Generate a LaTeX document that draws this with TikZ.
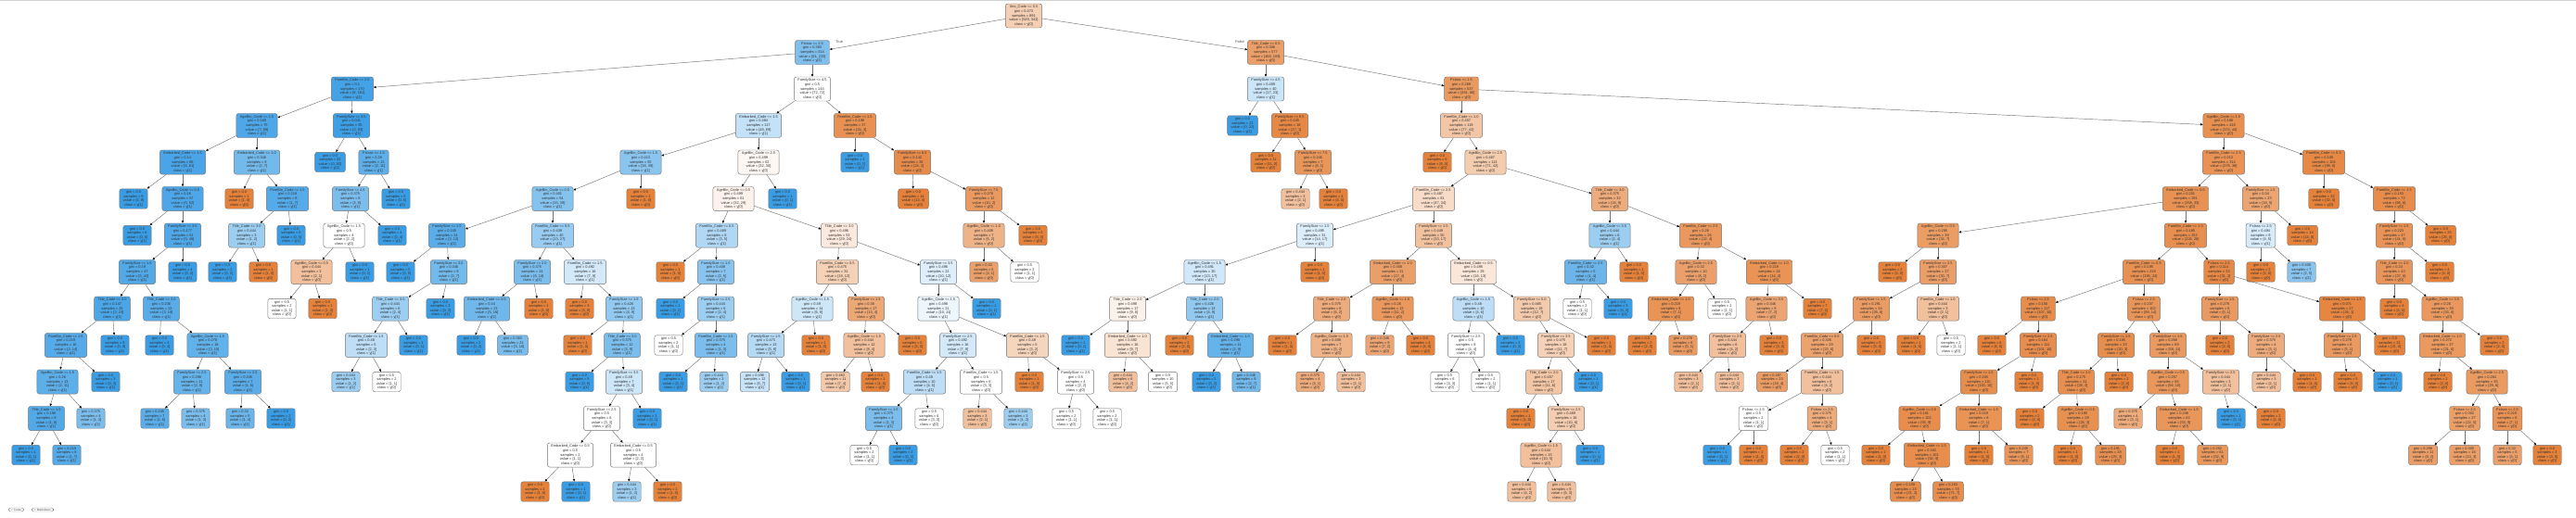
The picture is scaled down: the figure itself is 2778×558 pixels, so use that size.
\documentclass[tikz,border=0pt]{standalone}
\usepackage{fontspec}
\setmainfont{Liberation Sans}
\usetikzlibrary{arrows.meta}
\definecolor{cA}{RGB}{229,129,57}
\definecolor{cB}{RGB}{57,157,229}
\tikzset{
  tnode/.style={draw=black!55, line width=0.45pt, rounded corners=2.5pt, align=center,
    font=\fontsize{3.9}{4.6}\selectfont, text=black!80, inner xsep=4pt, inner ysep=2pt},
  edge/.style={draw=black!55, line width=0.45pt, -{Triangle[length=2.6pt,width=2.2pt,black]}},
  lbl/.style={font=\fontsize{3.9}{4.6}\selectfont, text=black!70, inner sep=0pt},
  pill/.style={draw=black!50, line width=0.3pt, rounded corners=2.5pt, font=\fontsize{3.2}{3.6}\selectfont, text=black!70, inner xsep=3pt, inner ysep=0.8pt}
}
% name, parent, x, level, split, gini, samples, a, b
\newcommand\tn[9]{%
  \ifnum#8<#9\relax\def\tncol{cB}\def\tncls{1}\pgfmathsetmacro\tnal{(1-(#8/#9))*100}%
  \else\def\tncol{cA}\def\tncls{0}\pgfmathsetmacro\tnal{(1-(#9/#8))*100}\fi
  \if\relax\detokenize{#5}\relax\def\tnsplit{}\else\def\tnsplit{#5\\}\fi
  \node[tnode, fill=\tncol!\tnal!white] (#1) at (#3,{17+39.5*#4}) {\tnsplit gini = #6\\samples = #7\\value = [#8, #9]\\class = y[\tncls]};
  \if\relax\detokenize{#2}\relax\else\draw[edge] (#2) -- (#1);\fi
}
\begin{document}
\begin{tikzpicture}[x=1pt,y=-1pt]
\fill[white] (0,0) rectangle (2778,558);
\useasboundingbox (0,0) rectangle (2778,558);
\draw[black!18, line width=0.8pt] (0,0.5) -- (2778,0.5);
% level 0-1
\tn{R}{}{1104}{0}{Sex\_Code <= 0.5}{0.473}{891}{549}{342}
\tn{A}{R}{876}{1}{Pclass <= 2.5}{0.383}{314}{81}{233}
\tn{B}{R}{1365}{1}{Title\_Code <= 0.5}{0.306}{577}{468}{109}
\node[lbl, anchor=west] (tl) at (901,45) {True};
\node[lbl, anchor=east] (fl) at (1342,45) {False};
% level 2
\tn{A1}{A}{380}{2}{FareBin\_Code <= 2.5}{0.1}{170}{9}{161}
\tn{A2}{A}{876}{2}{FamilySize <= 4.5}{0.5}{144}{72}{72}
\tn{B1}{B}{1365}{2}{FamilySize <= 4.5}{0.489}{40}{17}{23}
\tn{B2}{B}{1576}{2}{Pclass <= 1.5}{0.269}{537}{451}{86}
% level 3
\tn{A11}{A1}{277}{3}{AgeBin\_Code <= 2.5}{0.169}{75}{7}{68}
\tn{A12}{A1}{379}{3}{FamilySize <= 3.5}{0.041}{95}{2}{93}
\tn{A21}{A2}{818}{3}{Embarked\_Code <= 1.5}{0.484}{117}{48}{69}
\tn{A22}{A2}{922}{3}{FareBin\_Code <= 1.5}{0.198}{27}{24}{3}
\tn{B11}{B1}{1340}{3}{}{0.0}{22}{0}{22}
\tn{B12}{B1}{1391}{3}{FamilySize <= 6.5}{0.105}{18}{17}{1}
\tn{B21}{B2}{1576}{3}{FareBin\_Code <= 1.0}{0.457}{119}{77}{42}
\tn{B22}{B2}{2398}{3}{AgeBin\_Code <= 1.5}{0.188}{418}{374}{44}
% level 4
\tn{A111}{A11}{197}{4}{Embarked\_Code <= 1.5}{0.14}{66}{5}{61}
\tn{A112}{A11}{277}{4}{Embarked\_Code <= 1.0}{0.346}{9}{2}{7}
\tn{A121}{A12}{356}{4}{}{0.0}{82}{0}{82}
\tn{A122}{A12}{403}{4}{Pclass <= 1.5}{0.26}{13}{2}{11}
\tn{A211}{A21}{691}{4}{AgeBin\_Code <= 1.5}{0.413}{55}{16}{39}
\tn{A212}{A21}{818}{4}{AgeBin\_Code <= 2.5}{0.499}{62}{32}{30}
\tn{A221}{A22}{922}{4}{}{0.0}{1}{0}{1}
\tn{A222}{A22}{984}{4}{FamilySize <= 6.5}{0.142}{26}{24}{2}
\tn{B121}{B12}{1365}{4}{}{0.0}{11}{11}{0}
\tn{B122}{B12}{1416}{4}{FamilySize <= 7.5}{0.245}{7}{6}{1}
\tn{B211}{B21}{1550}{4}{}{0.0}{6}{6}{0}
\tn{B212}{B21}{1602}{4}{AgeBin\_Code <= 2.5}{0.467}{113}{71}{42}
\tn{B221}{B22}{2398}{4}{FareBin\_Code <= 2.5}{0.213}{314}{276}{38}
\tn{B222}{B22}{2506}{4}{FareBin\_Code <= 0.5}{0.109}{104}{98}{6}
% level 5
\tn{A1111}{A111}{144}{5}{}{0.0}{9}{0}{9}
\tn{A1112}{A111}{197}{5}{AgeBin\_Code <= 0.5}{0.16}{57}{5}{52}
\tn{A1121}{A112}{258}{5}{}{0.0}{1}{1}{0}
\tn{A1122}{A112}{310}{5}{FareBin\_Code <= 1.5}{0.219}{8}{1}{7}
\tn{A1221}{A122}{378}{5}{FamilySize <= 4.5}{0.375}{8}{2}{6}
\tn{A1222}{A122}{427}{5}{}{0.0}{5}{0}{5}
\tn{A2111}{A211}{596}{5}{AgeBin\_Code <= 0.5}{0.401}{54}{15}{39}
\tn{A2112}{A211}{691}{5}{}{0.0}{1}{1}{0}
\tn{A2121}{A212}{791}{5}{AgeBin\_Code <= 0.5}{0.499}{61}{32}{29}
\tn{A2122}{A212}{844}{5}{}{0.0}{1}{0}{1}
\tn{A2221}{A222}{985}{5}{}{0.0}{14}{14}{0}
\tn{A2222}{A222}{1061}{5}{FamilySize <= 7.5}{0.278}{12}{10}{2}
\tn{B1221}{B122}{1397}{5}{}{0.444}{3}{2}{1}
\tn{B1222}{B122}{1438}{5}{}{0.0}{4}{4}{0}
\tn{B2121}{B212}{1546}{5}{FareBin\_Code <= 2.5}{0.487}{81}{47}{34}
\tn{B2122}{B212}{1736}{5}{Title\_Code <= 3.0}{0.375}{32}{24}{8}
\tn{B2211}{B221}{2357}{5}{Embarked\_Code <= 0.5}{0.201}{291}{258}{33}
\tn{B2212}{B221}{2438}{5}{FamilySize <= 1.5}{0.34}{23}{18}{5}
\tn{B2221}{B222}{2506}{5}{}{0.0}{32}{32}{0}
\tn{B2222}{B222}{2582}{5}{FareBin\_Code <= 1.5}{0.153}{72}{66}{6}
% level 6
\tn{A11121}{A1112}{148}{6}{}{0.0}{6}{0}{6}
\tn{A11122}{A1112}{197}{6}{FamilySize <= 3.5}{0.177}{51}{5}{46}
\tn{A11221}{A1122}{266}{6}{Title\_Code <= 3.0}{0.444}{3}{1}{2}
\tn{A11222}{A1122}{314}{6}{}{0.0}{5}{0}{5}
\tn{A12211}{A1221}{371}{6}{AgeBin\_Code <= 1.5}{0.5}{4}{2}{2}
\tn{A12212}{A1221}{423}{6}{}{0.0}{4}{0}{4}
\tn{A21111}{A2111}{482}{6}{FamilySize <= 1.5}{0.245}{14}{2}{12}
\tn{A21112}{A2111}{596}{6}{FareBin\_Code <= 0.5}{0.439}{40}{13}{27}
\tn{A21211}{A2121}{773}{6}{FareBin\_Code <= 0.5}{0.469}{8}{3}{5}
\tn{A21212}{A2121}{905}{6}{Title\_Code <= 3.0}{0.496}{53}{29}{24}
\tn{A22221}{A2222}{1061}{6}{AgeBin\_Code <= 1.0}{0.408}{7}{5}{2}
\tn{A22222}{A2222}{1114}{6}{}{0.0}{5}{5}{0}
\tn{B21211}{B2121}{1418}{6}{FamilySize <= 1.5}{0.495}{31}{14}{17}
\tn{B21212}{B2121}{1546}{6}{FamilySize <= 1.5}{0.449}{50}{33}{17}
\tn{B21221}{B2122}{1736}{6}{AgeBin\_Code <= 3.5}{0.444}{6}{2}{4}
\tn{B21222}{B2122}{1834}{6}{FareBin\_Code <= 2.5}{0.26}{26}{22}{4}
\tn{B22111}{B2211}{2090}{6}{AgeBin\_Code <= 0.5}{0.295}{39}{32}{7}
\tn{B22112}{B2211}{2357}{6}{FareBin\_Code <= 1.5}{0.185}{252}{226}{26}
\tn{B22121}{B2212}{2438}{6}{Pclass <= 2.5}{0.494}{9}{4}{5}
\tn{B22122}{B2212}{2483}{6}{}{0.0}{14}{14}{0}
\tn{B22221}{B2222}{2582}{6}{FamilySize <= 1.5}{0.223}{47}{41}{6}
\tn{B22222}{B2222}{2632}{6}{}{0.0}{25}{25}{0}
% level 7
\tn{A111221}{A11122}{148}{7}{FamilySize <= 1.5}{0.19}{47}{5}{42}
\tn{A111222}{A11122}{197}{7}{}{0.0}{4}{0}{4}
\tn{A112211}{A11221}{240}{7}{}{0.0}{2}{0}{2}
\tn{A112212}{A11221}{284}{7}{}{0.0}{1}{1}{0}
\tn{A122111}{A12211}{336}{7}{AgeBin\_Code <= 0.5}{0.444}{3}{2}{1}
\tn{A122112}{A12211}{388}{7}{}{0.0}{1}{0}{1}
\tn{A211111}{A21111}{432}{7}{}{0.0}{5}{0}{5}
\tn{A211112}{A21111}{484}{7}{FamilySize <= 3.5}{0.346}{9}{2}{7}
\tn{A211121}{A21112}{574}{7}{FamilySize <= 2.0}{0.375}{24}{6}{18}
\tn{A211122}{A21112}{631}{7}{FareBin\_Code <= 1.5}{0.492}{16}{7}{9}
\tn{A212111}{A21211}{723}{7}{}{0.0}{1}{1}{0}
\tn{A212112}{A21211}{772}{7}{FamilySize <= 1.5}{0.408}{7}{2}{5}
\tn{A212121}{A21212}{903}{7}{FareBin\_Code <= 0.5}{0.475}{31}{19}{12}
\tn{A212122}{A21212}{1012}{7}{FamilySize <= 3.5}{0.496}{22}{10}{12}
\tn{A222211}{A22221}{1061}{7}{}{0.32}{5}{4}{1}
\tn{A222212}{A22221}{1105}{7}{}{0.5}{2}{1}{1}
\tn{B212111}{B21211}{1299}{7}{AgeBin\_Code <= 1.5}{0.491}{30}{13}{17}
\tn{B212112}{B21211}{1418}{7}{}{0.0}{1}{1}{0}
\tn{B212121}{B21212}{1502}{7}{Embarked\_Code <= 1.0}{0.308}{21}{17}{4}
\tn{B212122}{B21212}{1589}{7}{Embarked\_Code <= 0.5}{0.495}{29}{16}{13}
\tn{B212211}{B21221}{1710}{7}{FareBin\_Code <= 2.5}{0.32}{5}{1}{4}
\tn{B212212}{B21221}{1762}{7}{}{0.0}{1}{1}{0}
\tn{B212221}{B21222}{1829}{7}{AgeBin\_Code <= 2.5}{0.32}{10}{8}{2}
\tn{B212222}{B21222}{1908}{7}{Embarked\_Code <= 1.0}{0.219}{16}{14}{2}
\tn{B221111}{B22111}{2041}{7}{}{0.0}{2}{2}{0}
\tn{B221112}{B22111}{2090}{7}{FamilySize <= 2.5}{0.307}{37}{30}{7}
\tn{B221121}{B22112}{2312}{7}{FareBin\_Code <= 0.5}{0.195}{219}{195}{24}
\tn{B221122}{B22112}{2393}{7}{Pclass <= 2.5}{0.114}{33}{31}{2}
\tn{B221211}{B22121}{2438}{7}{}{0.0}{2}{2}{0}
\tn{B221212}{B22121}{2482}{7}{}{0.408}{7}{2}{5}
\tn{B222211}{B22221}{2582}{7}{Title\_Code <= 2.0}{0.24}{43}{37}{6}
\tn{B222212}{B22221}{2631}{7}{}{0.0}{4}{4}{0}
% level 8
\tn{A1112211}{A111221}{121}{8}{Title\_Code <= 3.0}{0.147}{25}{2}{23}
\tn{A1112212}{A111221}{174}{8}{Title\_Code <= 3.0}{0.236}{22}{3}{19}
\tn{A1221111}{A122111}{304}{8}{}{0.5}{2}{1}{1}
\tn{A1221112}{A122111}{348}{8}{}{0.0}{1}{1}{0}
\tn{A2111121}{A211112}{421}{8}{Title\_Code <= 3.0}{0.444}{6}{2}{4}
\tn{A2111122}{A211112}{475}{8}{}{0.0}{3}{0}{3}
\tn{A2111211}{A211121}{525}{8}{Embarked\_Code <= 0.5}{0.34}{23}{5}{18}
\tn{A2111212}{A211121}{581}{8}{}{0.0}{1}{1}{0}
\tn{A2111221}{A211122}{625}{8}{}{0.0}{3}{3}{0}
\tn{A2111222}{A211122}{673}{8}{FamilySize <= 1.5}{0.426}{13}{4}{9}
\tn{A2121121}{A212112}{723}{8}{}{0.0}{1}{0}{1}
\tn{A2121122}{A212112}{772}{8}{FamilySize <= 2.5}{0.444}{6}{2}{4}
\tn{A2121211}{A212121}{876}{8}{AgeBin\_Code <= 1.5}{0.49}{14}{6}{8}
\tn{A2121212}{A212121}{934}{8}{FamilySize <= 1.5}{0.36}{17}{13}{4}
\tn{A2121221}{A212122}{1012}{8}{AgeBin\_Code <= 1.5}{0.498}{21}{10}{11}
\tn{A2121222}{A212122}{1064}{8}{}{0.0}{1}{0}{1}
\tn{B2121111}{B212111}{1216}{8}{Title\_Code <= 2.0}{0.498}{17}{9}{8}
\tn{B2121112}{B212111}{1299}{8}{Title\_Code <= 2.0}{0.426}{13}{4}{9}
\tn{B2121211}{B212121}{1436}{8}{Title\_Code <= 2.0}{0.375}{8}{6}{2}
\tn{B2121212}{B212121}{1502}{8}{AgeBin\_Code <= 1.5}{0.26}{13}{11}{2}
\tn{B2121221}{B212122}{1589}{8}{AgeBin\_Code <= 1.5}{0.48}{10}{4}{6}
\tn{B2121222}{B212122}{1652}{8}{FamilySize <= 5.0}{0.465}{19}{12}{7}
\tn{B2122111}{B212211}{1701}{8}{}{0.5}{2}{1}{1}
\tn{B2122112}{B212211}{1745}{8}{}{0.0}{3}{0}{3}
\tn{B2122211}{B212221}{1802}{8}{Embarked\_Code <= 1.0}{0.219}{8}{7}{1}
\tn{B2122212}{B212221}{1857}{8}{}{0.5}{2}{1}{1}
\tn{B2122221}{B212222}{1905}{8}{AgeBin\_Code <= 3.5}{0.346}{9}{7}{2}
\tn{B2122222}{B212222}{1960}{8}{}{0.0}{7}{7}{0}
\tn{B2211121}{B221112}{2018}{8}{FamilySize <= 1.5}{0.291}{34}{28}{6}
\tn{B2211122}{B221112}{2090}{8}{FareBin\_Code <= 1.0}{0.444}{3}{2}{1}
\tn{B2211211}{B221121}{2198}{8}{Pclass <= 2.5}{0.156}{117}{107}{10}
\tn{B2211212}{B221121}{2312}{8}{Pclass <= 2.5}{0.237}{102}{88}{14}
\tn{B2211221}{B221122}{2394}{8}{FamilySize <= 1.5}{0.278}{6}{5}{1}
\tn{B2211222}{B221122}{2526}{8}{Embarked\_Code <= 1.5}{0.071}{27}{26}{1}
\tn{B2222111}{B222211}{2582}{8}{}{0.0}{4}{4}{0}
\tn{B2222112}{B222211}{2634}{8}{AgeBin\_Code <= 3.5}{0.26}{39}{33}{6}
% level 9
\tn{A11122111}{A1112211}{71}{9}{FareBin\_Code <= 1.5}{0.219}{16}{2}{14}
\tn{A11122112}{A1112211}{124}{9}{}{0.0}{9}{0}{9}
\tn{A11122121}{A1112212}{172}{9}{}{0.0}{4}{0}{4}
\tn{A11122122}{A1112212}{224}{9}{AgeBin\_Code <= 1.5}{0.278}{18}{3}{15}
\tn{A21111211}{A2111121}{395}{9}{FareBin\_Code <= 1.5}{0.48}{5}{2}{3}
\tn{A21111212}{A2111121}{446}{9}{}{0.0}{1}{0}{1}
\tn{A21112111}{A2111211}{508}{9}{}{0.0}{2}{0}{2}
\tn{A21112112}{A2111211}{553}{9}{}{0.363}{21}{5}{16}
\tn{A21112221}{A2111222}{623}{9}{}{0.0}{1}{1}{0}
\tn{A21112222}{A2111222}{671}{9}{Title\_Code <= 3.0}{0.375}{12}{3}{9}
\tn{A21211221}{A2121122}{721}{9}{}{0.5}{2}{1}{1}
\tn{A21211222}{A2121122}{772}{9}{FareBin\_Code <= 1.5}{0.375}{4}{1}{3}
\tn{A21212111}{A2121211}{826}{9}{FamilySize <= 1.5}{0.473}{13}{5}{8}
\tn{A21212112}{A2121211}{880}{9}{}{0.0}{1}{1}{0}
\tn{A21212121}{A2121212}{932}{9}{AgeBin\_Code <= 1.5}{0.444}{12}{8}{4}
\tn{A21212122}{A2121212}{984}{9}{}{0.0}{5}{5}{0}
\tn{A21212211}{A2121221}{1033}{9}{FamilySize <= 2.5}{0.492}{16}{7}{9}
\tn{A21212212}{A2121221}{1108}{9}{FareBin\_Code <= 1.5}{0.48}{5}{3}{2}
\tn{B21211111}{B2121111}{1160}{9}{}{0.0}{1}{0}{1}
\tn{B21211112}{B2121111}{1216}{9}{Embarked\_Code <= 1.0}{0.492}{16}{9}{7}
\tn{B21211121}{B2121112}{1272}{9}{}{0.0}{2}{2}{0}
\tn{B21211122}{B2121112}{1327}{9}{Embarked\_Code <= 1.0}{0.298}{11}{2}{9}
\tn{B21212111}{B2121211}{1383}{9}{}{0.0}{1}{1}{0}
\tn{B21212112}{B2121211}{1436}{9}{AgeBin\_Code <= 1.5}{0.408}{7}{5}{2}
\tn{B21212121}{B2121212}{1488}{9}{}{0.346}{9}{7}{2}
\tn{B21212122}{B2121212}{1532}{9}{}{0.0}{4}{4}{0}
\tn{B21212211}{B2121221}{1581}{9}{FamilySize <= 2.5}{0.5}{8}{4}{4}
\tn{B21212212}{B2121221}{1629}{9}{}{0.0}{2}{0}{2}
\tn{B21212221}{B2121222}{1678}{9}{FamilySize <= 3.5}{0.475}{18}{11}{7}
\tn{B21212222}{B2121222}{1727}{9}{}{0.0}{1}{1}{0}
\tn{B21221111}{B2122211}{1771}{9}{}{0.0}{2}{2}{0}
\tn{B21221112}{B2122211}{1815}{9}{}{0.278}{6}{5}{1}
\tn{B21222211}{B2122221}{1863}{9}{FamilySize <= 2.5}{0.444}{6}{4}{2}
\tn{B21222212}{B2122221}{1913}{9}{}{0.0}{3}{3}{0}
\tn{B22111211}{B2211121}{1965}{9}{FareBin\_Code <= 0.5}{0.326}{29}{23}{6}
\tn{B22111212}{B2211121}{2018}{9}{}{0.0}{5}{5}{0}
\tn{B22111221}{B2211122}{2061}{9}{}{0.0}{1}{1}{0}
\tn{B22111222}{B2211122}{2104}{9}{}{0.5}{2}{1}{1}
\tn{B22112111}{B2211211}{2148}{9}{}{0.0}{6}{6}{0}
\tn{B22112112}{B2211211}{2198}{9}{FamilySize <= 2.5}{0.164}{111}{101}{10}
\tn{B22112121}{B2211212}{2282}{9}{FamilySize <= 1.5}{0.185}{33}{30}{3}
\tn{B22112122}{B2211212}{2338}{9}{FamilySize <= 1.5}{0.268}{69}{58}{11}
\tn{B22112211}{B2211221}{2394}{9}{}{0.0}{2}{2}{0}
\tn{B22112212}{B2211221}{2444}{9}{FamilySize <= 2.5}{0.375}{4}{3}{1}
\tn{B22112221}{B2211222}{2526}{9}{FamilySize <= 2.5}{0.278}{6}{5}{1}
\tn{B22112222}{B2211222}{2577}{9}{}{0.0}{21}{21}{0}
\tn{B22221121}{B2222112}{2634}{9}{Embarked\_Code <= 1.0}{0.272}{37}{31}{6}
\tn{B22221122}{B2222112}{2690}{9}{}{0.0}{2}{2}{0}
% level 10
\tn{A111221111}{A11122111}{62}{10}{AgeBin\_Code <= 1.5}{0.26}{13}{2}{11}
\tn{A111221112}{A11122111}{114}{10}{}{0.0}{3}{0}{3}
\tn{A111221221}{A11122122}{207}{10}{FamilySize <= 2.5}{0.298}{11}{2}{9}
\tn{A111221222}{A11122122}{262}{10}{FamilySize <= 2.5}{0.245}{7}{1}{6}
\tn{A211112111}{A21111211}{373}{10}{}{0.444}{3}{1}{2}
\tn{A211112112}{A21111211}{417}{10}{}{0.5}{2}{1}{1}
\tn{A211122221}{A21112222}{625}{10}{}{0.0}{5}{0}{5}
\tn{A211122222}{A21112222}{673}{10}{FamilySize <= 3.5}{0.49}{7}{3}{4}
\tn{A212112221}{A21211222}{726}{10}{}{0.0}{1}{0}{1}
\tn{A212112222}{A21211222}{770}{10}{}{0.444}{3}{1}{2}
\tn{A212121111}{A21212111}{814}{10}{}{0.496}{12}{5}{7}
\tn{A212121112}{A21212111}{858}{10}{}{0.0}{1}{0}{1}
\tn{A212121211}{A21212121}{901}{10}{}{0.463}{11}{7}{4}
\tn{A212121212}{A21212121}{944}{10}{}{0.0}{1}{1}{0}
\tn{A212122111}{A21212211}{997}{10}{FareBin\_Code <= 1.5}{0.48}{10}{4}{6}
\tn{A212122112}{A21212211}{1058}{10}{FareBin\_Code <= 1.5}{0.5}{6}{3}{3}
\tn{A212122121}{A21212212}{1110}{10}{}{0.0}{1}{1}{0}
\tn{A212122122}{A21212212}{1160}{10}{FamilySize <= 2.5}{0.5}{4}{2}{2}
\tn{B212111121}{B21211112}{1211}{10}{}{0.444}{6}{4}{2}
\tn{B212111122}{B21211112}{1254}{10}{}{0.5}{10}{5}{5}
\tn{B212111221}{B21211122}{1301}{10}{}{0.0}{2}{0}{2}
\tn{B212111222}{B21211122}{1344}{10}{}{0.346}{9}{2}{7}
\tn{B212121121}{B21212112}{1413}{10}{}{0.375}{4}{3}{1}
\tn{B212121122}{B21212112}{1457}{10}{}{0.444}{3}{2}{1}
\tn{B212122111}{B21212211}{1558}{10}{}{0.5}{6}{3}{3}
\tn{B212122112}{B21212211}{1602}{10}{}{0.5}{2}{1}{1}
\tn{B212122211}{B21212221}{1665}{10}{Title\_Code <= 2.0}{0.457}{17}{11}{6}
\tn{B212122212}{B21212221}{1713}{10}{}{0.0}{1}{0}{1}
\tn{B212222111}{B21222211}{1821}{10}{}{0.444}{3}{2}{1}
\tn{B212222112}{B21222211}{1865}{10}{}{0.444}{3}{2}{1}
\tn{B221112111}{B22111211}{1911}{10}{}{0.287}{23}{19}{4}
\tn{B221112112}{B22111211}{1965}{10}{FareBin\_Code <= 1.5}{0.444}{6}{4}{2}
\tn{B221121121}{B22112112}{2134}{10}{FamilySize <= 1.5}{0.165}{110}{100}{10}
\tn{B221121122}{B22112112}{2188}{10}{}{0.0}{1}{1}{0}
\tn{B221121211}{B22112121}{2239}{10}{Title\_Code <= 2.0}{0.175}{31}{28}{3}
\tn{B221121212}{B22112121}{2285}{10}{}{0.0}{2}{2}{0}
\tn{B221121221}{B22112122}{2338}{10}{AgeBin\_Code <= 0.5}{0.257}{66}{56}{10}
\tn{B221121222}{B22112122}{2395}{10}{FamilySize <= 2.5}{0.444}{3}{2}{1}
\tn{B221122121}{B22112212}{2444}{10}{}{0.444}{3}{2}{1}
\tn{B221122122}{B22112212}{2488}{10}{}{0.0}{1}{1}{0}
\tn{B221122211}{B22112221}{2532}{10}{}{0.0}{5}{5}{0}
\tn{B221122212}{B22112221}{2575}{10}{}{0.0}{1}{0}{1}
\tn{B222211211}{B22221121}{2629}{10}{}{0.0}{2}{2}{0}
\tn{B222211212}{B22221121}{2682}{10}{AgeBin\_Code <= 2.5}{0.264}{35}{29}{6}
% level 11
\tn{A1112211111}{A111221111}{50}{11}{Title\_Code <= 1.5}{0.198}{9}{1}{8}
\tn{A1112211112}{A111221111}{98}{11}{}{0.375}{4}{1}{3}
\tn{A1112212211}{A111221221}{167}{11}{}{0.245}{7}{1}{6}
\tn{A1112212212}{A111221221}{211}{11}{}{0.375}{4}{1}{3}
\tn{A1112212221}{A111221222}{259}{11}{}{0.32}{5}{1}{4}
\tn{A1112212222}{A111221222}{303}{11}{}{0.0}{2}{0}{2}
\tn{A2111222221}{A211122222}{649}{11}{FamilySize <= 2.5}{0.5}{6}{3}{3}
\tn{A2111222222}{A211122222}{698}{11}{}{0.0}{1}{0}{1}
\tn{A2121221111}{A212122111}{953}{11}{FamilySize <= 1.5}{0.375}{4}{1}{3}
\tn{A2121221112}{A212122111}{1002}{11}{}{0.5}{6}{3}{3}
\tn{A2121221121}{A212122112}{1054}{11}{}{0.444}{3}{2}{1}
\tn{A2121221122}{A212122112}{1098}{11}{}{0.444}{3}{1}{2}
\tn{A2121221221}{A212122122}{1150}{11}{}{0.5}{2}{1}{1}
\tn{A2121221222}{A212122122}{1194}{11}{}{0.5}{2}{1}{1}
\tn{B2121222111}{B212122211}{1640}{11}{}{0.0}{1}{1}{0}
\tn{B2121222112}{B212122211}{1689}{11}{FamilySize <= 2.5}{0.469}{16}{10}{6}
\tn{B2211121121}{B221112112}{1891}{11}{Pclass <= 2.5}{0.5}{2}{1}{1}
\tn{B2211121122}{B221112112}{1965}{11}{Pclass <= 2.5}{0.375}{4}{3}{1}
\tn{B2211211211}{B221121121}{2070}{11}{AgeBin\_Code <= 0.5}{0.161}{102}{93}{9}
\tn{B2211211212}{B221121121}{2134}{11}{Embarked\_Code <= 1.5}{0.219}{8}{7}{1}
\tn{B2211212111}{B221121211}{2189}{11}{}{0.0}{2}{2}{0}
\tn{B2211212112}{B221121211}{2241}{11}{AgeBin\_Code <= 0.5}{0.185}{29}{26}{3}
\tn{B2211212211}{B221121221}{2295}{11}{}{0.375}{4}{3}{1}
\tn{B2211212212}{B221121221}{2350}{11}{Embarked\_Code <= 1.5}{0.246}{62}{53}{9}
\tn{B2211212221}{B221121222}{2406}{11}{}{0.0}{1}{0}{1}
\tn{B2211212222}{B221121222}{2449}{11}{}{0.0}{2}{2}{0}
\tn{B2222112121}{B222211212}{2658}{11}{Pclass <= 2.5}{0.302}{27}{22}{5}
\tn{B2222112122}{B222211212}{2704}{11}{Pclass <= 2.5}{0.219}{8}{7}{1}
% level 12
\tn{A11122111111}{A1112211111}{28}{12}{}{0.0}{1}{0}{1}
\tn{A11122111112}{A1112211111}{72}{12}{}{0.219}{8}{1}{7}
\tn{A21112222211}{A2111222221}{615}{12}{Embarked\_Code <= 0.5}{0.5}{2}{1}{1}
\tn{A21112222212}{A2111222221}{683}{12}{Embarked\_Code <= 0.5}{0.5}{4}{2}{2}
\tn{A21212211111}{A2121221111}{932}{12}{}{0.5}{2}{1}{1}
\tn{A21212211112}{A2121221111}{974}{12}{}{0.0}{2}{0}{2}
\tn{B21212221121}{B2121222112}{1662}{12}{AgeBin\_Code <= 1.5}{0.444}{15}{10}{5}
\tn{B21212221122}{B2121222112}{1715}{12}{}{0.0}{1}{0}{1}
\tn{B22111211211}{B2211121121}{1852}{12}{}{0.0}{1}{0}{1}
\tn{B22111211212}{B2211121121}{1891}{12}{}{0.0}{1}{1}{0}
\tn{B22111211221}{B2211121122}{1935}{12}{}{0.0}{2}{2}{0}
\tn{B22111211222}{B2211121122}{1979}{12}{}{0.5}{2}{1}{1}
\tn{B22112112111}{B2211211211}{2023}{12}{}{0.0}{1}{1}{0}
\tn{B22112112112}{B2211211211}{2078}{12}{Embarked\_Code <= 1.5}{0.162}{101}{92}{9}
\tn{B22112112121}{B2211211212}{2134}{12}{}{0.0}{1}{1}{0}
\tn{B22112112122}{B2211211212}{2177}{12}{}{0.245}{7}{6}{1}
\tn{B22112121121}{B2211212112}{2230}{12}{}{0.0}{1}{1}{0}
\tn{B22112121122}{B2211212112}{2276}{12}{}{0.191}{28}{25}{3}
\tn{B22112122121}{B2211212212}{2340}{12}{}{0.0}{1}{1}{0}
\tn{B22112122122}{B2211212212}{2386}{12}{}{0.252}{61}{52}{9}
\tn{B22221121211}{B2222112121}{2613}{12}{}{0.298}{11}{9}{2}
\tn{B22221121212}{B2222112121}{2658}{12}{}{0.305}{16}{13}{3}
\tn{B22221121221}{B2222112122}{2704}{12}{}{0.32}{5}{4}{1}
\tn{B22221121222}{B2222112122}{2747}{12}{}{0.0}{3}{3}{0}
% level 13
\tn{A211122222111}{A21112222211}{577}{13}{}{0.0}{1}{1}{0}
\tn{A211122222112}{A21112222211}{621}{13}{}{0.0}{1}{0}{1}
\tn{A211122222121}{A21112222212}{676}{13}{}{0.444}{3}{1}{2}
\tn{A211122222122}{A21112222212}{720}{13}{}{0.0}{1}{1}{0}
\tn{B212122211211}{B21212221121}{1641}{13}{}{0.444}{6}{4}{2}
\tn{B212122211212}{B21212221121}{1684}{13}{}{0.444}{9}{6}{3}
\tn{B221121121121}{B22112112112}{2055}{13}{}{0.159}{23}{21}{2}
\tn{B221121121122}{B22112112112}{2101}{13}{}{0.163}{78}{71}{7}
% notebook buttons
\node[pill, anchor=west] (lg1) at (9,550) {+ Code};
\node[pill, anchor=west] (lg2) at (34,550) {+ Markdown};
\end{tikzpicture}
\end{document}
